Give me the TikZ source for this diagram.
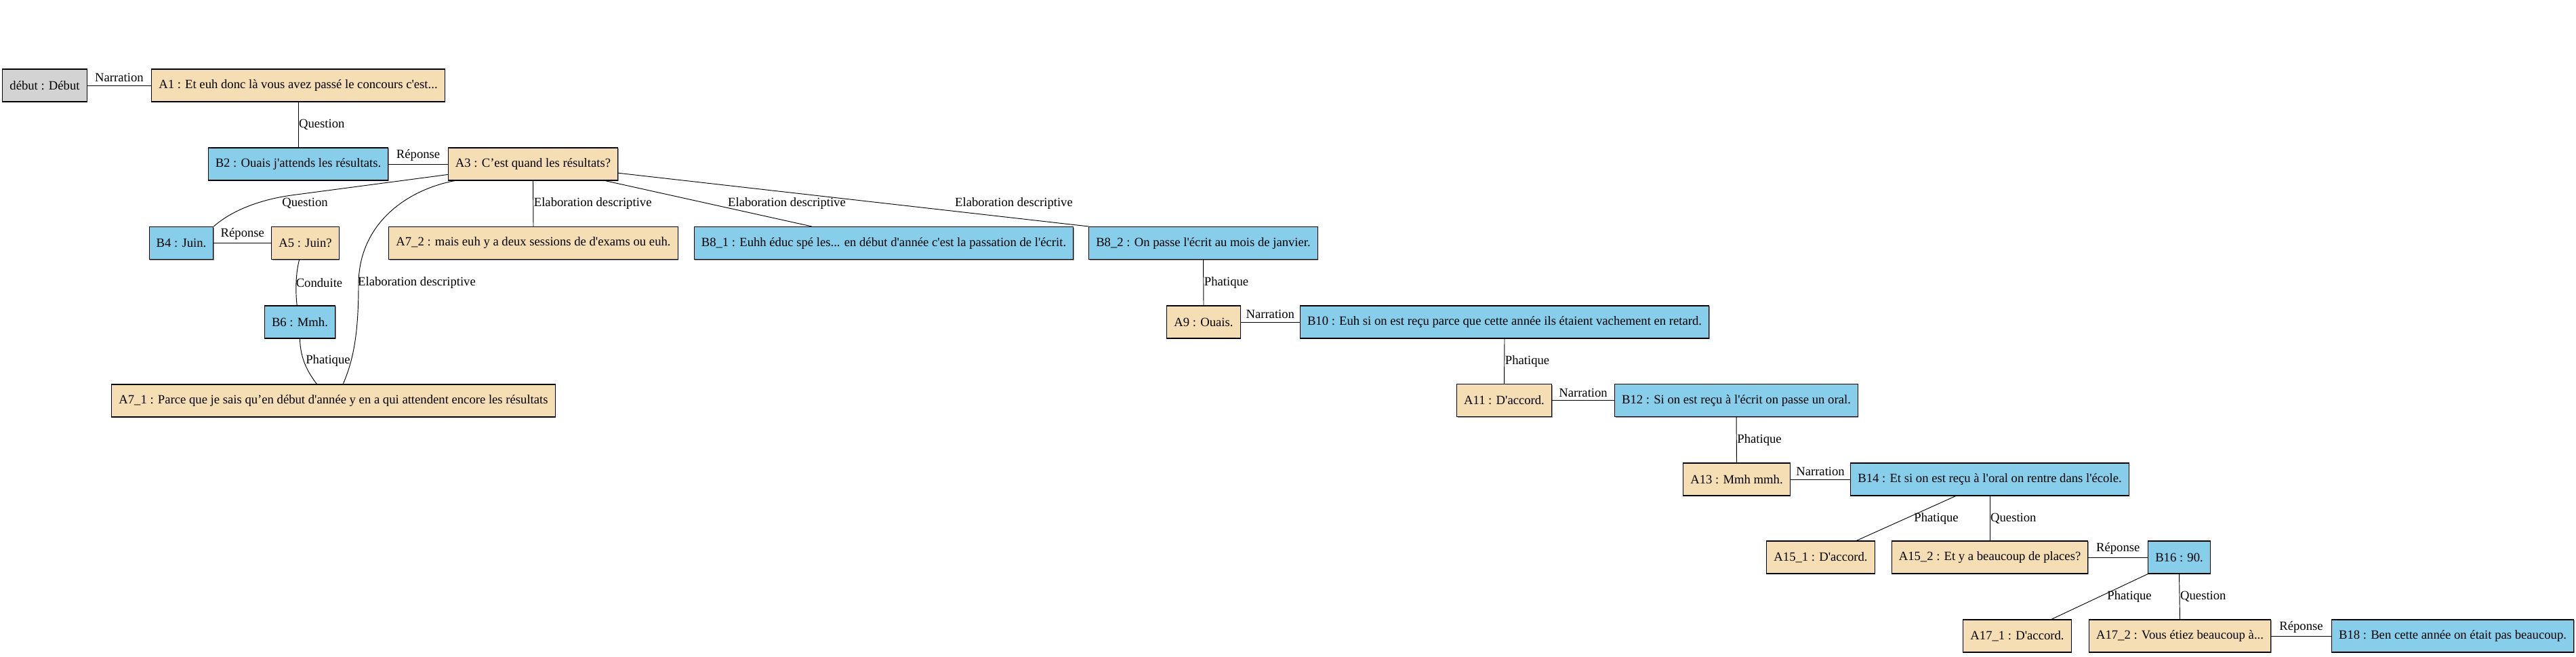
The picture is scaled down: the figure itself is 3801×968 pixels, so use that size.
\documentclass[tikz,border=0pt]{standalone}
\usepackage{fontspec}
\setmainfont{Liberation Serif}[Ligatures=TeXOff]
\usetikzlibrary{shadows}
\definecolor{awheat}{HTML}{F5DEB3}
\definecolor{bsky}{HTML}{87CEEB}
\definecolor{startgray}{HTML}{D3D3D3}

\begin{document}
\begin{tikzpicture}[x=0.75pt, y=0.75pt, font=\fontsize{14}{17}\selectfont,
    box/.style={draw, rectangle, line width=0.8pt, minimum height=36pt, minimum width=54pt, inner xsep=7.9pt, inner ysep=0pt,
        drop shadow={shadow xshift=0.8pt, shadow yshift=-0.8pt, fill=black!45, opacity=1}},
    abox/.style={box, fill=awheat},
    bbox/.style={box, fill=bsky},
    rel/.style={line width=0.7pt},
    vlbl/.style={midway, right, inner xsep=0.5pt},
    hlbl/.style={midway, above}]
    \useasboundingbox (0,0) rectangle (3801,-968);

    % Speech turns
    \node[box, fill=startgray] (debut) at (66,-126) {début : Début};
    \node[abox] (A1) at (440,-126) {A1 : Et euh donc là vous avez passé le concours c'est...};
    \node[bbox] (B2) at (440,-242) {B2 : Ouais j'attends les résultats.};
    \node[abox] (A3) at (786.5,-242) {A3 : C’est quand les résultats?};
    \node[bbox] (B4) at (267.5,-358.5) {B4 : Juin.};
    \node[abox] (A5) at (450.5,-358.5) {A5 : Juin?};
    \node[abox] (A72) at (787,-358.5) {A7\_2 : mais euh y a deux sessions de d'exams ou euh.};
    \node[bbox] (B81) at (1304,-358.5) {B8\_1 : Euhh éduc spé les... en début d'année c'est la passation de l'écrit.};
    \node[bbox] (B82) at (1775.5,-358.5) {B8\_2 : On passe l'écrit au mois de janvier.};
    \node[bbox] (B6) at (442.5,-475) {B6 : Mmh.};
    \node[abox] (A71) at (492,-591) {A7\_1 : Parce que je sais qu’en début d'année y en a qui attendent encore les résultats};
    \node[abox] (A9) at (1776,-475) {A9 : Ouais.};
    \node[bbox] (B10) at (2220,-475) {B10 : Euh si on est reçu parce que cette année ils étaient vachement en retard.};
    \node[abox] (A11) at (2219.5,-590.5) {A11 : D'accord.};
    \node[bbox] (B12) at (2562,-590.5) {B12 : Si on est reçu à l'écrit on passe un oral.};
    \node[abox] (A13) at (2562.5,-707) {A13 : Mmh mmh.};
    \node[bbox] (B14) at (2936,-707) {B14 : Et si on est reçu à l'oral on rentre dans l'école.};
    \node[abox] (A151) at (2686.5,-822) {A15\_1 : D'accord.};
    \node[abox] (A152) at (2936,-822) {A15\_2 : Et y a beaucoup de places?};
    \node[bbox] (B16) at (3215.5,-822) {B16 : 90.};
    \node[abox] (A171) at (2976.5,-938) {A17\_1 : D'accord.};
    \node[abox] (A172) at (3216.5,-938) {A17\_2 : Vous étiez beaucoup à...};
    \node[bbox] (B18) at (3619,-938) {B18 : Ben cette année on était pas beaucoup.};

    % Straight relations
    \draw[rel] (debut.east) -- (A1.west) node[hlbl] {Narration};
    \draw[rel] (A1.south) -- (B2.north) node[vlbl] {Question};
    \draw[rel] (B2.east) -- (A3.west) node[hlbl] {Réponse};
    \draw[rel] (B4.east) -- (A5.west) node[hlbl] {Réponse};
    \draw[rel] (A3.south) -- (A72.north) node[vlbl] {Elaboration descriptive};
    \draw[rel] (A3.-13) -- (B81.167) node at (1161,-300) {Elaboration descriptive};
    \draw[rel] (A3.-6) -- (B82.north west) node at (1496,-300) {Elaboration descriptive};
    \draw[rel] (B82.south) -- (A9.north) node[vlbl] {Phatique};
    \draw[rel] (A9.east) -- (B10.west) node[hlbl] {Narration};
    \draw[rel] (B10.south) -- (A11.north) node[vlbl] {Phatique};
    \draw[rel] (A11.east) -- (B12.west) node[hlbl] {Narration};
    \draw[rel] (B12.south) -- (A13.north) node[vlbl] {Phatique};
    \draw[rel] (A13.east) -- (B14.west) node[hlbl] {Narration};
    \draw[rel] (B14.206) -- (A151.25) node at (2857,-765) {Phatique};
    \draw[rel] (B14.south) -- (A152.north) node[vlbl] {Question};
    \draw[rel] (A152.east) -- (B16.west) node[hlbl] {Réponse};
    \draw[rel] (B16.south west) -- (A171.26) node at (3142,-880) {Phatique};
    \draw[rel] (B16.south) -- (A172.north) node[vlbl] {Question};
    \draw[rel] (A172.east) -- (B18.west) node[hlbl] {Réponse};

    % Curved relations
    \draw[rel] (A3.187) -- (430,-288) .. controls (380,-295) and (340,-312) .. (B4.north east);
    \node at (450,-300) {Question};
    \draw[rel] (A3.192) .. controls (600,-280) and (529,-330) .. (529,-420)
        .. controls (529,-490) and (522,-530) .. (A71.60);
    \node at (615,-417) {Elaboration descriptive};
    \draw[rel] (A5.250) .. controls (436,-405) and (436,-430) .. (B6.100);
    \node at (471,-417) {Conduite};
    \draw[rel] (B6.south) .. controls (443,-530) and (455,-550) .. (A71.135);
    \node at (484,-532) {Phatique};
\end{tikzpicture}
\end{document}
